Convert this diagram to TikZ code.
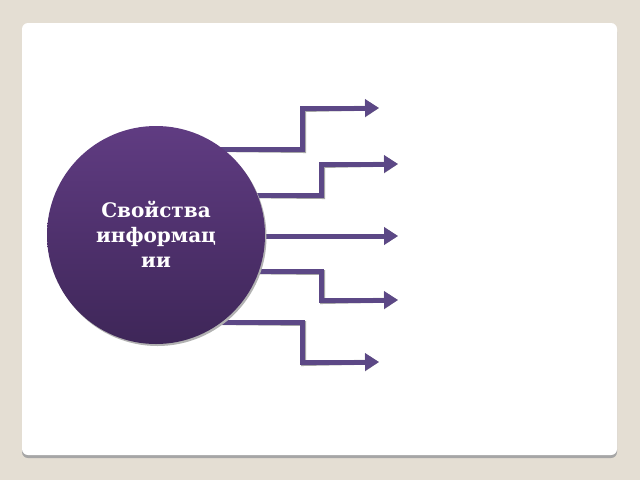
\documentclass[tikz,border=0pt]{standalone}
\usepackage{fontspec}
\setmainfont{DejaVu Serif}
\usepackage{xcolor}
\usepackage{tikz}
\usetikzlibrary{arrows.meta}

\definecolor{slidebg}{RGB}{228,222,211}
\definecolor{flowpurple}{RGB}{92,72,134}
\definecolor{circtop}{RGB}{96,60,130}
\definecolor{circbot}{RGB}{62,38,88}

\begin{document}
\begin{tikzpicture}[x=1pt,y=-1pt,
    flow/.style={line width=5pt, color=flowpurple, -{Triangle[length=14pt,width=17pt]}},
    flowshadow/.style={line width=5pt, color=black!35, -{Triangle[length=14pt,width=17pt]}, shift={(1.5,1.5)}}]
    \useasboundingbox (0,0) rectangle (640,480);
    \fill[slidebg] (0,0) rectangle (640,480);

    % panel
    \fill[black!35, rounded corners=6pt] (22,26) rectangle (617,458);
    \fill[white, rounded corners=6pt] (22,23) rectangle (617,455);

    \coordinate (c) at (156,235);

    % arrows
    \foreach \name/\ys/\xb/\yt/\xt in {a/149/302/108/379, b/195/321/164/398, d/271/321/300/398, e/322/302/362/379}
    {
    \coordinate (s\name) at (170,\ys);
    \coordinate (t\name) at (\xt,\yt);
    \draw[flowshadow] (s\name) -- (\xb,\ys) -- (\xb,\yt) -- (t\name);
    \draw[flow] (s\name) -- (\xb,\ys) -- (\xb,\yt) -- (t\name);
    }
    \coordinate (sc) at (170,236);
    \coordinate (tc) at (398,236);
    \draw[flowshadow] (sc) -- (tc);
    \draw[flow] (sc) -- (tc);

    % circle
    \fill[black!30] ([shift={(1.5,2)}]c) circle (109);
    \node[circle, minimum size=218pt, inner sep=0pt, top color=circtop, bottom color=circbot] (circ) at (c) {};
    \node[text=white, font=\fontsize{20}{25}\selectfont\bfseries, align=center] (lbl) at ([yshift=1]c) {Свойства\\информац\\ии};

\end{tikzpicture}
\end{document}
